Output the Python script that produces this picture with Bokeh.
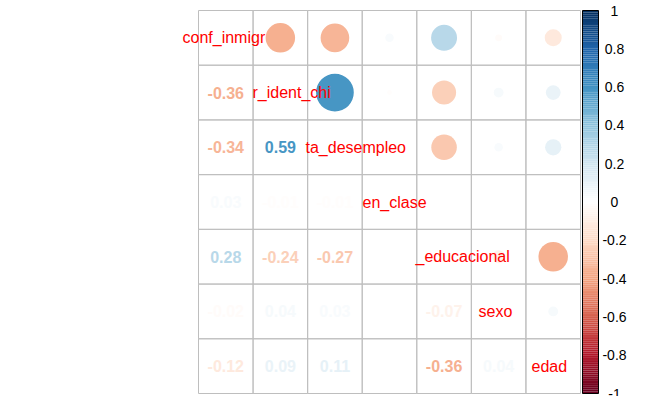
import numpy as np
from bokeh.plotting import figure
from bokeh.models import Range1d
from bokeh.core.properties import value
from bokeh.embed import file_html
from bokeh.resources import INLINE

labels = ["conf_inmigr", "r_ident_chi", "ta_desempleo", "en_clase", "_educacional", "sexo", "edad"]
label_left = [182, 252, 305, 362, 415, 478, 531]  # px, left edge of visible label
# lower triangle correlations
lower = {
    (1, 0): -0.36,
    (2, 0): -0.34, (2, 1): 0.59,
    (3, 0): 0.03, (3, 1): -0.01, (3, 2): -0.01,
    (4, 0): 0.28, (4, 1): -0.24, (4, 2): -0.27, (4, 3): 0.00,
    (5, 0): -0.02, (5, 1): 0.04, (5, 2): 0.03, (5, 3): 0.00, (5, 4): -0.07,
    (6, 0): -0.12, (6, 1): 0.09, (6, 2): 0.11, (6, 3): 0.00, (6, 4): -0.36, (6, 5): 0.04,
}
cbar_ticks = [1, 0.8, 0.6, 0.4, 0.2, 0, -0.2, -0.4, -0.6, -0.8, -1]
cbar_labels = ["1", "0.8", "0.6", "0.4", "0.2", "0", "-0.2", "-0.4", "-0.6", "-0.8", "-1"]

stops = ["#67001F", "#B2182B", "#D6604D", "#F4A582", "#FDDBC7", "#FFFFFF",
         "#D1E5F0", "#92C5DE", "#4393C3", "#2166AC", "#053061"]
srgb = np.array([[int(s[i:i+2], 16) for i in (1, 3, 5)] for s in stops], float)
def col(r):
    t = (r + 1) / 2 * 10
    i = min(int(t), 9); f = t - i
    c = srgb[i] * (1 - f) + srgb[i+1] * f
    return "#%02x%02x%02x" % tuple(int(round(v)) for v in c)

W, H = 646, 396
p = figure(width=W, height=H, output_backend="svg", toolbar_location=None,
           x_range=Range1d(0, W), y_range=Range1d(H, 0), min_border=0)
p.axis.visible = False
p.grid.visible = False
p.outline_line_color = None

n = 7
x0, y0, x1, y1 = 198, 10, 580, 393
cw = (x1 - x0) / n; ch = (y1 - y0) / n
cx = lambda j: x0 + (j + 0.5) * cw
cy = lambda i: y0 + (i + 0.5) * ch

xs = [cx(j) for i in range(n) for j in range(n)]
ys = [cy(i) for i in range(n) for j in range(n)]
p.rect(xs, ys, width=cw, height=ch, fill_color=None, line_color="#BEBEBE", line_width=1)

fontN = value("Liberation Sans")
for (i, j), r in lower.items():
    p.text([cx(j)], [cy(i)], text=[f"{r:.2f}"], text_align="center", text_baseline="middle",
           text_font=fontN, text_font_size="16px", text_font_style="bold", text_color=col(r))
for (i, j), r in lower.items():
    rad = 0.45 * cw * np.sqrt(abs(r))
    if rad > 0:
        p.circle([cx(i)], [cy(j)], radius=rad, fill_color=col(r), line_color=None)
for k, lab in enumerate(labels):
    p.text([label_left[k]], [cy(k)], text=[lab], text_align="left", text_baseline="middle",
           text_font=fontN, text_font_size="16px", text_color="red")

bx0, bx1 = 582, 598
N = 200
edges = np.linspace(y0, y1, N + 1)
vals = np.linspace(1, -1, N)
p.quad(left=bx0, right=bx1, top=edges[:-1], bottom=edges[1:],
       fill_color=[col(v) for v in vals], line_color=None)
p.rect([(bx0 + bx1) / 2], [(y0 + y1) / 2], width=bx1 - bx0, height=y1 - y0,
       fill_color=None, line_color="black", line_width=1)
ty = [y0 + (1 - t) / 2 * (y1 - y0) for t in cbar_ticks]
p.text([614] * len(ty), ty, text=cbar_labels, text_align="center", text_baseline="middle",
       text_font=fontN, text_font_size="14px", text_color="black")

open("out.html", "w").write(file_html(p, INLINE))
